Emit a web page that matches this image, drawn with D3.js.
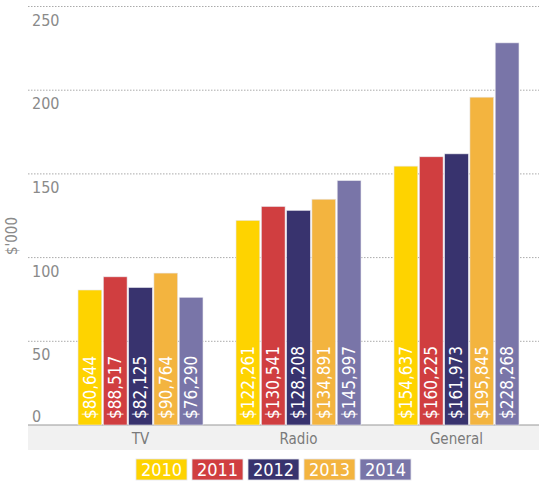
<!DOCTYPE html>
<html>
<head>
<meta charset="utf-8">
<script src="https://cdn.jsdelivr.net/npm/d3@7/dist/d3.min.js"></script>
<style>
  body { margin: 0; background: #fff; }
  svg { display: block; }
  text { font-family: "Liberation Sans Narrow", "DejaVu Sans Condensed", "Roboto", sans-serif; }
</style>
</head>
<body>
<svg id="chart"></svg>
<script>
var categories = ['TV', 'Radio', 'General'];
var years = ['2010', '2011', '2012', '2013', '2014'];
// values in dollars, one array per year (TV, Radio, General)
var values2010 = [80644, 122261, 154637];
var values2011 = [88517, 130541, 160225];
var values2012 = [82125, 128208, 161973];
var values2013 = [90764, 134891, 195845];
var values2014 = [76290, 145997, 228268];
var yTicks = [0, 50, 100, 150, 200, 250];
var colors = ['#fed300', '#d03e40', '#38336e', '#f3b43f', '#7975a8'];

var seriesValues = [values2010, values2011, values2012, values2013, values2014];

var width = 539, height = 484;
var plotLeft = 28, plotRight = 539;
var baseY = 425, topY = 6.5;

var svg = d3.select('#chart')
    .attr('width', width)
    .attr('height', height);

var y = d3.scaleLinear().domain([0, 250]).range([baseY, topY]);

var x0 = d3.scaleBand()
    .domain(categories)
    .range([61.5, 535.5])
    .paddingInner(0.209)
    .paddingOuter(0.1045);

var x1 = d3.scaleBand()
    .domain(years)
    .range([0, x0.bandwidth()])
    .paddingInner(0.06);

// grey band under the axis
svg.append('rect')
    .attr('x', plotLeft)
    .attr('y', baseY)
    .attr('width', plotRight - plotLeft)
    .attr('height', 25)
    .attr('fill', '#f1f1f1');

// gridlines + tick labels
var grid = svg.append('g').attr('class', 'grid');
yTicks.forEach(function(t) {
    if (t > 0) {
        grid.append('line')
            .attr('x1', plotLeft).attr('x2', plotRight)
            .attr('y1', y(t)).attr('y2', y(t))
            .attr('stroke', '#aaa')
            .attr('stroke-width', 1)
            .attr('stroke-dasharray', '1.5,1.5');
    }
    grid.append('text')
        .attr('x', 32)
        .attr('y', t > 0 ? y(t) + 19 : y(t) - 3)
        .attr('fill', '#8a8a8a')
        .style('font-size', '16px')
        .text(t);
});

// baseline
svg.append('line')
    .attr('x1', plotLeft).attr('x2', plotRight)
    .attr('y1', baseY).attr('y2', baseY)
    .attr('stroke', '#999')
    .attr('stroke-width', 1.2);

// y axis title
svg.append('text')
    .attr('transform', 'translate(17,236) rotate(-90)')
    .attr('text-anchor', 'middle')
    .attr('fill', '#8a8a8a')
    .style('font-size', '15px')
    .text("$'000");

// bars
var groups = svg.selectAll('g.group')
    .data(categories)
    .enter().append('g')
    .attr('class', 'group')
    .attr('transform', function(d) { return 'translate(' + x0(d) + ',0)'; });

groups.each(function(cat, ci) {
    var g = d3.select(this);
    years.forEach(function(yr, yi) {
        var v = seriesValues[yi][ci];
        var bx = x1(yr);
        g.append('rect')
            .attr('x', bx)
            .attr('y', y(v / 1000))
            .attr('width', x1.bandwidth())
            .attr('height', baseY - y(v / 1000))
            .attr('fill', colors[yi])
            .attr('stroke', '#e8e8ee')
            .attr('stroke-width', 0.6);

        g.append('text')
            .attr('transform', 'translate(' + (bx + x1.bandwidth() / 2) + ',' + (baseY - 6) + ') rotate(-90)')
            .attr('dy', '0.35em')
            .attr('fill', '#fff')
            .style('font-size', '17px')
            .text('$' + d3.format(',')(v));
    });
});

// category labels
svg.selectAll('text.cat')
    .data(categories)
    .enter().append('text')
    .attr('class', 'cat')
    .attr('x', function(d) { return x0(d) + x0.bandwidth() / 2; })
    .attr('y', 444)
    .attr('text-anchor', 'middle')
    .attr('fill', '#7a7a7a')
    .style('font-size', '15px')
    .text(function(d) { return d; });

// legend
var legend = svg.append('g').attr('class', 'legend');
years.forEach(function(yr, i) {
    var lx = 136 + i * 56;
    legend.append('rect')
        .attr('x', lx).attr('y', 459)
        .attr('width', 51).attr('height', 21)
        .attr('fill', colors[i])
        .attr('stroke', '#e4e4ea')
        .attr('stroke-width', 0.8);
    legend.append('text')
        .attr('x', lx + 25.5).attr('y', 476)
        .attr('text-anchor', 'middle')
        .attr('fill', '#fff')
        .style('font-size', '18px')
        .text(yr);
});
</script>
</body>
</html>
